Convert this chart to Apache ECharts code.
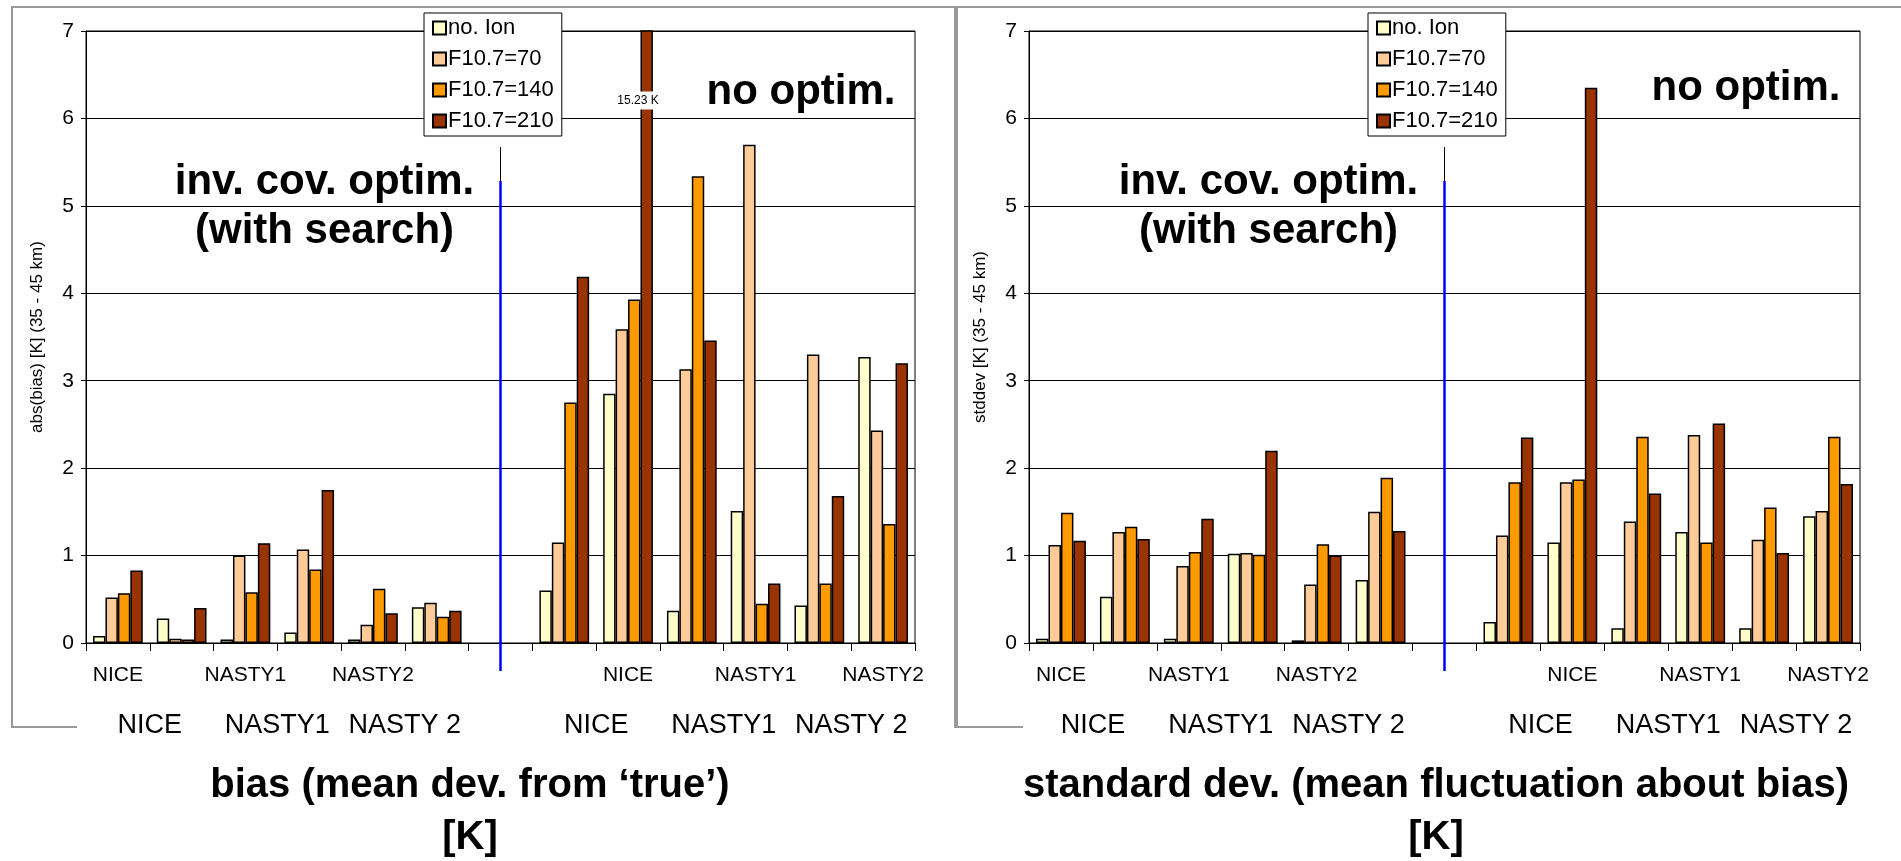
<!DOCTYPE html>
<html>
<head>
<meta charset="UTF-8">
<title>bias / stddev</title>
<style>
  html, body { margin: 0; padding: 0; background: #fff; }
  #chart { width: 1901px; height: 861px; }
</style>
</head>
<body>
<div id="chart"></div>
<script src="https://cdn.jsdelivr.net/npm/echarts@6/dist/echarts.min.js"></script>
<script>
// 13 slots: 6 clusters "inv. cov. optim.", one empty, 6 clusters "no optim."
var categories = ['NICE', 'c2', 'NASTY1', 'c4', 'NASTY2', 'c6', 'gap', 'c8', 'NICE ', 'c10', 'NASTY1 ', 'c12', 'NASTY2 '];
var shownLabels = { 0: 'NICE', 2: 'NASTY1', 4: 'NASTY2', 8: 'NICE', 10: 'NASTY1', 12: 'NASTY2' };
var groupLabels = ['NICE', 'NASTY1', 'NASTY 2', 'NICE', 'NASTY1', 'NASTY 2'];
var groupPairs = [[0, 1], [2, 3], [4, 5], [7, 8], [9, 10], [11, 12]];
var seriesNames = ['no. Ion', 'F10.7=70', 'F10.7=140', 'F10.7=210'];
var seriesColors = ['#FFFFCC', '#FFCC99', '#FF9900', '#993300'];
var yTicks = [0, 1, 2, 3, 4, 5, 6, 7];

// abs(bias) [K]
var biasNoIon = [0.08, 0.28, 0.04, 0.12, 0.04, 0.41, null, 0.60, 2.85, 0.37, 1.51, 0.43, 3.27];
var bias70    = [0.52, 0.05, 1.00, 1.07, 0.21, 0.46, null, 1.15, 3.59, 3.13, 5.70, 3.30, 2.43];
var bias140   = [0.57, 0.04, 0.58, 0.84, 0.62, 0.30, null, 2.75, 3.93, 5.34, 0.45, 0.68, 1.36];
var bias210   = [0.83, 0.40, 1.14, 1.75, 0.34, 0.37, null, 4.19, 15.23, 3.46, 0.68, 1.68, 3.20];

// stddev [K]
var sdNoIon = [0.05, 0.53, 0.05, 1.02, 0.03, 0.72, null, 0.24, 1.15, 0.17, 1.27, 0.17, 1.45];
var sd70    = [1.12, 1.27, 0.88, 1.03, 0.67, 1.50, null, 1.23, 1.84, 1.39, 2.38, 1.18, 1.51];
var sd140   = [1.49, 1.33, 1.04, 1.01, 1.13, 1.89, null, 1.84, 1.87, 2.36, 1.15, 1.55, 2.36];
var sd210   = [1.17, 1.19, 1.42, 2.20, 1.00, 1.28, null, 2.35, 6.35, 1.71, 2.51, 1.03, 1.82];

var FONT = 'Liberation Sans, Arial, sans-serif';
var chart = echarts.init(document.getElementById('chart'));

function xAxisCfg(gi) {
  return {
    type: 'category', gridIndex: gi, data: categories,
    axisLine: { lineStyle: { color: '#000', width: 1 } },
    axisTick: { show: true, length: 8, lineStyle: { color: '#000' } },
    axisLabel: {
      interval: 0, margin: 22, color: '#000', fontFamily: FONT, fontSize: 21,
      formatter: function (v, i) { return shownLabels[i] || ''; }
    }
  };
}
function yAxisCfg(gi, name) {
  return {
    type: 'value', gridIndex: gi, min: 0, max: 7, interval: 1,
    name: name, nameLocation: 'middle', nameGap: 40, nameRotate: 90,
    nameTextStyle: { color: '#000', fontFamily: FONT, fontSize: 17 },
    axisLine: { show: true, lineStyle: { color: '#000' } },
    axisTick: { show: true, length: 5, lineStyle: { color: '#000' } },
    axisLabel: { color: '#000', fontFamily: FONT, fontSize: 21, margin: 12 },
    splitLine: { lineStyle: { color: '#000', width: 1 } }
  };
}
function legendCfg(left) {
  return {
    orient: 'vertical', left: left, top: 13, data: seriesNames,
    icon: 'rect', itemWidth: 13, itemHeight: 13, itemGap: 9,
    padding: [4, 8, 4, 8], borderColor: '#000', borderWidth: 1, backgroundColor: '#fff',
    textStyle: { color: '#000', fontFamily: FONT, fontSize: 22, padding: [0, 0, 0, -3] }
  };
}

var biasSets = [biasNoIon, bias70, bias140, bias210];
var sdSets = [sdNoIon, sd70, sd140, sd210];
var series = [];
[biasSets, sdSets].forEach(function (sets, gi) {
  sets.forEach(function (vals, k) {
    series.push({
      name: seriesNames[k], type: 'bar', xAxisIndex: gi, yAxisIndex: gi,
      data: vals, barGap: '0%', barCategoryGap: '22%',
      itemStyle: { color: seriesColors[k], borderColor: '#000', borderWidth: 1.5 },
      emphasis: { disabled: true }
    });
  });
});

function txt(x, y, s, size, bold) {
  return { type: 'text', x: x, y: y, z: 100,
    style: { text: s, fill: '#000', font: (bold ? 'bold ' : '') + size + 'px ' + FONT,
      textAlign: 'center', textVerticalAlign: 'middle' } };
}

chart.setOption({
  animation: false,
  grid: [
    { left: 86, top: 31, width: 829, height: 612, show: true, borderColor: '#000', borderWidth: 1 },
    { left: 1029, top: 31, width: 831, height: 612, show: true, borderColor: '#000', borderWidth: 1 }
  ],
  xAxis: [xAxisCfg(0), xAxisCfg(1)],
  yAxis: [yAxisCfg(0, 'abs(bias) [K] (35 - 45 km)'), yAxisCfg(1, 'stddev [K] (35 - 45 km)')],
  legend: [legendCfg(424), legendCfg(1368)],
  series: series
});

// decorations placed through the axes' own scales
var g = [];
// outer grey frames
g.push({ type: 'polyline', shape: { points: [[77, 727], [12, 727], [12, 7], [955, 7], [955, 727], [962, 727]] },
  style: { stroke: '#999', lineWidth: 2, fill: null } });
g.push({ type: 'polyline', shape: { points: [[1023, 727], [957, 727], [957, 7], [1901, 7]] },
  style: { stroke: '#999', lineWidth: 2, fill: null } });

[0, 1].forEach(function (gi) {
  var fx = { xAxisIndex: gi, yAxisIndex: gi };
  var gapX = chart.convertToPixel(fx, ['gap', 0])[0];
  g.push({ type: 'line', z: 50, shape: { x1: gapX, y1: 147, x2: gapX, y2: 181 }, style: { stroke: '#000', lineWidth: 1 } });
  g.push({ type: 'line', z: 50, shape: { x1: gapX, y1: 181, x2: gapX, y2: 671 }, style: { stroke: '#0000FF', lineWidth: 2.5 } });
  groupPairs.forEach(function (p, i) {
    var xa = chart.convertToPixel(fx, [categories[p[0]], 0])[0];
    var xb = chart.convertToPixel(fx, [categories[p[1]], 0])[0];
    g.push(txt((xa + xb) / 2, 726, groupLabels[i], 27, false));
  });
  var leftX = gapX - 176;
  g.push(txt(leftX, 182, 'inv. cov. optim.', 42, true));
  g.push(txt(leftX, 231, '(with search)', 42, true));
});
g.push(txt(801, 92, 'no optim.', 42, true));
g.push(txt(1746, 88, 'no optim.', 42, true));
g.push(txt(470, 786, 'bias (mean dev. from \u2018true\u2019)', 40, true));
g.push(txt(470, 838, '[K]', 40, true));
g.push(txt(1436, 786, 'standard dev. (mean fluctuation about bias)', 40, true));
g.push(txt(1436, 838, '[K]', 40, true));
// off-scale bar annotation
var big = chart.convertToPixel({ xAxisIndex: 0, yAxisIndex: 0 }, ['NICE ', 6]);
g.push({ type: 'text', x: big[0] + 10, y: big[1] - 18, z: 100,
  style: { text: bias210[8] + ' K', fill: '#000', font: '12px ' + FONT, textAlign: 'center', textVerticalAlign: 'middle',
    backgroundColor: '#fff', padding: [3, 3] } });
chart.setOption({ graphic: g });
</script>
</body>
</html>
